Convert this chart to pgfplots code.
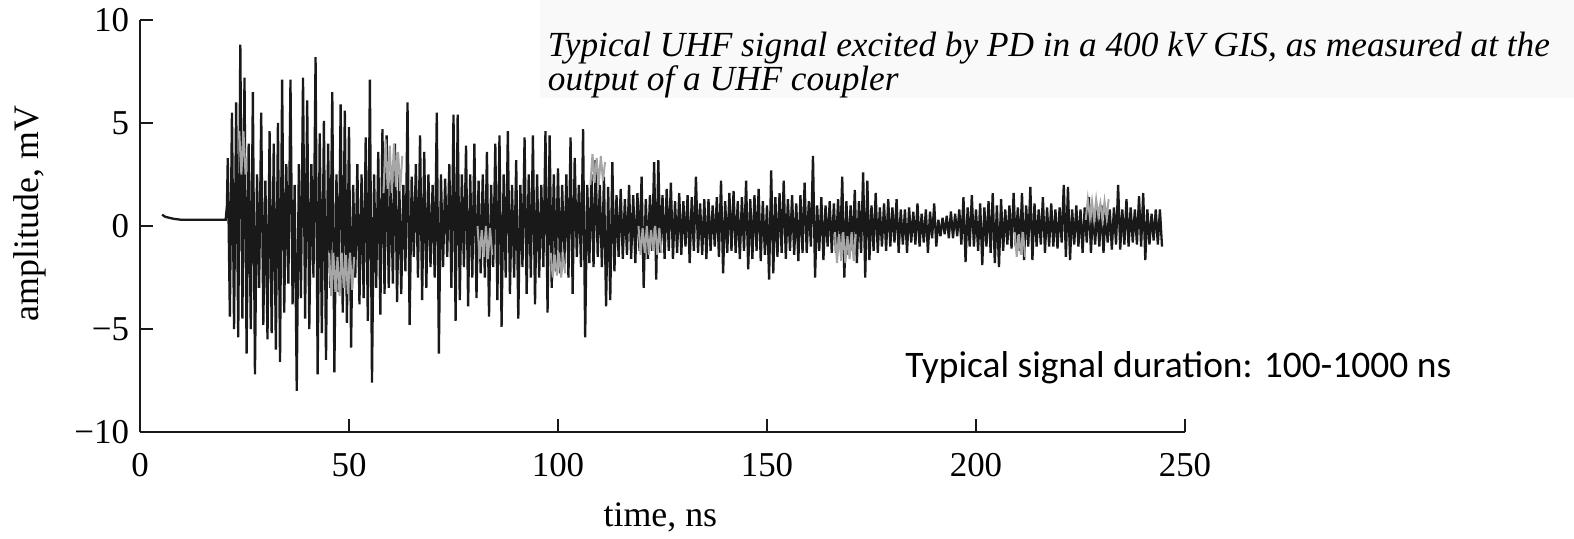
\documentclass[border=0pt]{standalone}
\usepackage{fontspec}
\setmainfont{Liberation Serif}
\newfontfamily\calibri{Carlito}
\usepackage{pgfplots}
\pgfplotsset{compat=1.18}
\begin{document}
\begin{tikzpicture}
\begin{axis}[
  scale only axis, width=522.5bp, height=206bp,
  xmin=0, xmax=250, ymin=-10, ymax=10,
  axis x line=bottom, axis y line=left,
  axis line style={-, line width=1bp, black!90},
  xtick={0,50,100,150,200,250}, xticklabels={0,50,100,150,200,250},
  ytick={-10,-5,0,5,10}, yticklabels={−10,−5,0,5,10},
  tick align=inside, major tick length=6.5bp,
  tick style={line width=1bp, black!90},
  ticklabel style={font=\fontsize{17.5}{17.5}\selectfont},
  xticklabel style={yshift=-7bp},
  yticklabel style={xshift=-2bp},
  /pgf/number format/assume math mode=true,
  xlabel={time, ns}, ylabel={amplitude, mV},
  label style={font=\fontsize{18}{18}\selectfont},
  xlabel style={at={(axis description cs:0.498,-0.208)}, anchor=center},
  ylabel style={at={(axis description cs:-0.105,0.53)}, anchor=center},
  clip=false,
  unbounded coords=jump,
]
\fill[black!2.5] (axis description cs:0.383,0.81) rectangle (axis description cs:1.372,1.0485);
\addplot[black!90, line width=1.15bp, line join=miter, miter limit=3] table[row sep=\\] {
x y\\
5.3 0.55\\ 6 0.45\\ 8 0.35\\ 10 0.3\\ 15 0.3\\ 20.5 0.3\\ 20.8 1.0\\
21 3.3\\ 21.5 -4.4\\ 22 5.5\\ 22.5 -5.0\\ 23 6.0\\ 23.5 -5.4\\ 24 8.8\\ 24.5 -4.5\\
25 7.2\\ 25.5 -6.2\\ 26 4.0\\ 26.5 -5.0\\ 27 6.5\\ 27.5 -7.2\\ 28 2.5\\ 28.5 -3.0\\
29 5.5\\ 29.5 -4.8\\ 30 2.2\\ 30.5 -5.5\\ 31 4.6\\ 31.5 -5.2\\ 32 4.0\\ 32.5 -6.0\\
33 5.0\\ 33.5 -6.6\\ 34 7.1\\ 34.5 -4.2\\ 35 3.0\\ 35.5 -2.8\\ 36 7.1\\ 36.5 -3.8\\
37 2.0\\ 37.5 -8.0\\ 38 3.0\\ 38.5 -3.5\\ 39 7.2\\ 39.5 -4.5\\ 40 6.1\\ 40.5 -5.0\\
41 3.0\\ 41.5 -2.5\\ 42 8.2\\ 42.5 -7.2\\ 43 4.5\\ 43.5 -5.2\\ 44 5.1\\ 44.5 -6.5\\
45 4.0\\ 45.5 -3.0\\ 46 6.5\\ 46.5 -7.1\\ 47 2.5\\ 47.5 -3.2\\ 48 5.9\\ 48.5 -4.2\\
49 5.6\\ 49.5 -4.7\\ 50 4.8\\ 50.5 -5.9\\ 51 2.0\\ 51.5 -2.5\\ 52 3.0\\ 52.5 -3.8\\
53 2.5\\ 53.5 -3.5\\ 54 4.3\\ 54.5 -4.6\\ 55 7.1\\ 55.5 -7.6\\ 56 2.5\\ 56.5 -3.0\\
57 3.6\\ 57.5 -4.3\\ 58 4.7\\ 58.5 -3.3\\ 59 4.4\\ 59.5 -3.0\\ 60 2.5\\ 60.5 -2.8\\
61 4.0\\ 61.5 -3.7\\ 62 2.5\\ 62.5 -3.3\\ 63 2.0\\ 63.5 -2.2\\ 64 6.0\\ 64.5 -4.8\\
65 2.4\\ 65.5 -1.5\\ 66 3.0\\ 66.5 -2.5\\ 67 4.4\\ 67.5 -3.6\\ 68 3.6\\ 68.5 -3.0\\
69 2.5\\ 69.5 -2.0\\ 70 2.0\\ 70.5 -2.5\\ 71 5.5\\ 71.5 -6.2\\ 72 2.5\\ 72.5 -2.0\\
73 2.3\\ 73.5 -1.5\\ 74 3.0\\ 74.5 -3.0\\ 75 5.4\\ 75.5 -4.6\\ 76 5.4\\ 76.5 -3.6\\
77 2.5\\ 77.5 -2.0\\ 78 3.9\\ 78.5 -3.9\\ 79 2.5\\ 79.5 -2.5\\ 80 4.0\\ 80.5 -3.5\\
81 2.2\\ 81.5 -2.3\\ 82 2.5\\ 82.5 -2.5\\ 83 3.6\\ 83.5 -4.4\\ 84 2.0\\ 84.5 -2.0\\
85 4.0\\ 85.5 -3.6\\ 86 4.4\\ 86.5 -4.9\\ 87 2.5\\ 87.5 -2.5\\ 88 4.6\\ 88.5 -3.3\\
89 2.0\\ 89.5 -2.5\\ 90 3.2\\ 90.5 -4.5\\ 91 2.0\\ 91.5 -2.0\\ 92 4.3\\ 92.5 -3.3\\
93 2.5\\ 93.5 -2.5\\ 94 4.4\\ 94.5 -3.8\\ 95 2.5\\ 95.5 -2.5\\ 96 2.0\\ 96.5 -2.0\\
97 4.6\\ 97.5 -4.2\\ 98 4.4\\ 98.5 -3.0\\ 99 2.5\\ 99.5 -2.2\\ 100 2.8\\ 100.5 -2.3\\
101 2.0\\ 101.5 -2.0\\ 102 2.5\\ 102.5 -2.5\\ 103 4.3\\ 103.5 -3.3\\ 104 3.3\\ 104.5 -1.5\\
105 2.0\\ 105.5 -2.0\\ 106 4.7\\ 106.5 -5.4\\ 107 2.0\\ 107.5 -1.8\\ 108 2.5\\ 108.5 -2.0\\
109 3.2\\ 109.5 -1.5\\ 110 2.0\\ 110.5 -2.0\\ 111 2.4\\ 111.5 -3.9\\ 112 1.9\\ 112.5 -3.6\\
113 3.1\\ 113.5 -2.2\\ 114 1.5\\ 114.5 -1.5\\ 115 1.8\\ 115.5 -1.6\\ 116 1.3\\ 116.5 -1.4\\
117 2.0\\ 117.5 -1.6\\ 118 1.5\\ 118.5 -1.8\\ 119 1.6\\ 119.5 -1.2\\ 120 2.4\\ 120.5 -3.0\\
121 1.3\\ 121.5 -1.6\\ 122 1.5\\ 122.5 -1.2\\ 123 3.1\\ 123.5 -2.6\\ 124 3.2\\ 124.5 -1.3\\
125 1.5\\ 125.5 -1.6\\ 126 1.8\\ 126.5 -1.2\\ 127 2.1\\ 127.5 -1.6\\ 128 1.2\\ 128.5 -1.3\\
129 1.6\\ 129.5 -1.4\\ 130 1.2\\ 130.5 -1.0\\ 131 1.5\\ 131.5 -1.8\\ 132 1.4\\ 132.5 -1.2\\
133 2.4\\ 133.5 -1.3\\ 134 1.1\\ 134.5 -1.4\\ 135 1.3\\ 135.5 -1.6\\ 136 1.3\\ 136.5 -1.2\\
137 1.0\\ 137.5 -1.0\\ 138 1.4\\ 138.5 -1.5\\ 139 2.2\\ 139.5 -2.3\\ 140 1.2\\ 140.5 -1.3\\
141 1.6\\ 141.5 -1.2\\ 142 1.7\\ 142.5 -1.3\\ 143 1.2\\ 143.5 -1.6\\ 144 1.4\\ 144.5 -1.2\\
145 2.2\\ 145.5 -2.1\\ 146 1.3\\ 146.5 -1.6\\ 147 1.5\\ 147.5 -1.2\\ 148 1.8\\ 148.5 -1.7\\
149 1.2\\ 149.5 -1.4\\ 150 1.0\\ 150.5 -2.6\\ 151 2.7\\ 151.5 -2.3\\ 152 1.4\\ 152.5 -1.5\\
153 1.6\\ 153.5 -1.3\\ 154 2.2\\ 154.5 -1.6\\ 155 1.3\\ 155.5 -1.2\\ 156 1.5\\ 156.5 -1.4\\
157 1.1\\ 157.5 -1.7\\ 158 1.5\\ 158.5 -1.3\\ 159 2.1\\ 159.5 -1.3\\ 160 1.2\\ 160.5 -1.0\\
161 3.4\\ 161.5 -2.5\\ 162 1.0\\ 162.5 -1.2\\ 163 1.4\\ 163.5 -1.65\\ 164 1.0\\ 164.5 -1.0\\
165 1.2\\ 165.5 -1.3\\ 166 1.1\\ 166.5 -1.3\\ 167 1.3\\ 167.5 -1.1\\ 168 2.4\\ 168.5 -2.5\\
169 1.2\\ 169.5 -1.4\\ 170 1.0\\ 170.5 -1.2\\ 171 1.75\\ 171.5 -1.8\\ 172 1.2\\ 172.5 -1.3\\
173 2.6\\ 173.5 -2.5\\ 174 2.2\\ 174.5 -1.65\\ 175 1.0\\ 175.5 -1.2\\ 176 1.6\\ 176.5 -1.3\\
177 0.9\\ 177.5 -1.0\\ 178 1.1\\ 178.5 -1.2\\ 179 1.3\\ 179.5 -1.0\\ 180 0.9\\ 180.5 -0.8\\
181 1.3\\ 181.5 -1.3\\ 182 0.8\\ 182.5 -0.9\\ 183 0.8\\ 183.5 -1.3\\ 184 0.9\\ 184.5 -0.8\\
185 0.7\\ 185.5 -0.9\\ 186 1.1\\ 186.5 -1.0\\ 187 0.6\\ 187.5 -0.8\\ 188 0.8\\ 188.5 -1.3\\
189 0.7\\ 189.5 -0.6\\ 190 1.1\\ 190.5 -1.0\\ 191 0.3\\ 191.5 -0.5\\ 192 0.4\\ 192.5 -0.4\\
193 0.5\\ 193.5 -0.6\\ 194 0.7\\ 194.5 -0.6\\ 195 0.6\\ 195.5 -0.5\\ 196 0.8\\ 196.5 -0.9\\
197 1.4\\ 197.5 -1.75\\ 198 0.9\\ 198.5 -1.0\\ 199 1.5\\ 199.5 -1.0\\ 200 0.8\\ 200.5 -1.2\\
201 1.1\\ 201.5 -1.9\\ 202 0.9\\ 202.5 -1.0\\ 203 1.2\\ 203.5 -1.3\\ 204 1.6\\ 204.5 -1.8\\
205 1.0\\ 205.5 -2.0\\ 206 1.3\\ 206.5 -1.2\\ 207 0.8\\ 207.5 -0.9\\ 208 1.0\\ 208.5 -1.1\\
209 1.6\\ 209.5 -1.0\\ 210 0.9\\ 210.5 -1.2\\ 211 1.6\\ 211.5 -1.65\\ 212 1.0\\ 212.5 -1.0\\
213 1.9\\ 213.5 -1.65\\ 214 1.1\\ 214.5 -1.0\\ 215 0.8\\ 215.5 -0.9\\ 216 1.4\\ 216.5 -1.3\\
217 0.9\\ 217.5 -1.0\\ 218 1.1\\ 218.5 -1.0\\ 219 0.8\\ 219.5 -1.1\\ 220 0.9\\ 220.5 -0.8\\
221 2.0\\ 221.5 -1.5\\ 222 1.9\\ 222.5 -1.65\\ 223 0.8\\ 223.5 -0.9\\ 224 1.0\\ 224.5 -1.0\\
225 0.8\\ 225.5 -1.3\\ 226 0.9\\ 226.5 -0.8\\ 227 1.4\\ 227.5 -1.3\\ 228 0.8\\ 228.5 -0.9\\
229 0.9\\ 229.5 -1.0\\ 230 1.0\\ 230.5 -1.3\\ 231 0.7\\ 231.5 -0.8\\ 232 0.8\\ 232.5 -1.15\\
233 0.9\\ 233.5 -0.9\\ 234 2.0\\ 234.5 -1.15\\ 235 0.8\\ 235.5 -0.9\\ 236 1.3\\ 236.5 -1.0\\
237 0.9\\ 237.5 -0.8\\ 238 0.8\\ 238.5 -0.9\\ 239 1.45\\ 239.5 -1.0\\ 240 1.6\\ 240.5 -1.65\\
241 0.8\\ 241.5 -0.9\\ 242 0.6\\ 242.5 -0.7\\ 243 0.8\\ 243.5 -0.9\\ 244 0.8\\ 244.5 -1.0\\
};
\addplot[black!35, line width=1bp] table[row sep=\\] {
x y\\
23.75 4.6\\ 24.25 2.5\\ 24.75 4.6\\ 25.25 2.5\\ 25.5 nan\\
45.25 -1.3\\ 45.75 -3.4\\ 46.25 -1.3\\ 46.75 -3.2\\ 47.25 -1.5\\ 47.75 -3.4\\ 48.25 -1.3\\ 48.75 -3.0\\ 49.25 -1.4\\ 49.75 -3.3\\ 50.25 -1.3\\ 50.75 -3.1\\ 51.25 -1.5\\ 51.5 nan\\
58.25 1.6\\ 58.75 4.2\\ 59.25 1.8\\ 59.75 3.9\\ 60.25 1.6\\ 60.75 4.0\\ 61.25 1.9\\ 61.75 3.6\\ 62.25 1.7\\ 62.75 3.4\\ 63 nan\\
80.75 0\\ 81.25 -1.6\\ 81.75 -0.2\\ 82.25 -1.5\\ 82.75 0\\ 83.25 -1.6\\ 83.75 -0.1\\ 84.25 -1.4\\ 84.5 nan\\
98.25 -1.3\\ 98.75 -2.5\\ 99.25 -1.4\\ 99.75 -2.4\\ 100.25 -1.3\\ 100.75 -2.5\\ 101.25 -1.5\\ 101.75 -2.3\\ 102 nan\\
107.75 2.0\\ 108.25 3.5\\ 108.75 2.1\\ 109.25 3.3\\ 109.75 2.0\\ 110.25 3.4\\ 110.75 2.2\\ 111.25 3.1\\ 111.5 nan\\
119.25 0\\ 119.75 -1.4\\ 120.25 -0.1\\ 120.75 -1.3\\ 121.25 0\\ 121.75 -1.4\\ 122.25 -0.2\\ 122.75 -1.2\\ 123.25 0\\ 123.75 -1.4\\ 124.25 -0.1\\ 124.75 -1.3\\ 125 nan\\
166.25 -0.3\\ 166.75 -1.8\\ 167.25 -0.4\\ 167.75 -1.7\\ 168.25 -0.3\\ 168.75 -1.8\\ 169.25 -0.5\\ 169.75 -1.6\\ 170.25 -0.3\\ 170.75 -1.7\\ 171.25 -0.4\\ 171.5 nan\\
209.25 -0.3\\ 209.75 -1.5\\ 210.25 -0.4\\ 210.75 -1.4\\ 211.25 -0.3\\ 211.75 -1.5\\ 212 nan\\
226.25 0.3\\ 226.75 1.3\\ 227.25 0.4\\ 227.75 1.2\\ 228.25 0.3\\ 228.75 1.3\\ 229.25 0.5\\ 229.75 1.1\\ 230.25 0.3\\ 230.75 1.2\\ 231.25 0.4\\ 231.75 1.3\\
};
\node[anchor=north west, align=left, font=\itshape\fontsize{17.7}{17bp}\selectfont, inner sep=0pt]
  at (axis description cs:0.39,0.972)
  {Typical UHF signal excited by PD in a 400 kV GIS, as measured at the\\ output of a UHF coupler};
\node[anchor=west, font=\calibri\fontsize{18.8}{18.8}\selectfont, inner sep=0pt]
  at (axis description cs:0.732,0.155) {Typical signal duration: 100-1000 ns};
\end{axis}
\path ([shift={(-70bp,-53.5bp)}]current axis.south west) rectangle ([shift={(194.5bp,10bp)}]current axis.north east);
\end{tikzpicture}
\end{document}
